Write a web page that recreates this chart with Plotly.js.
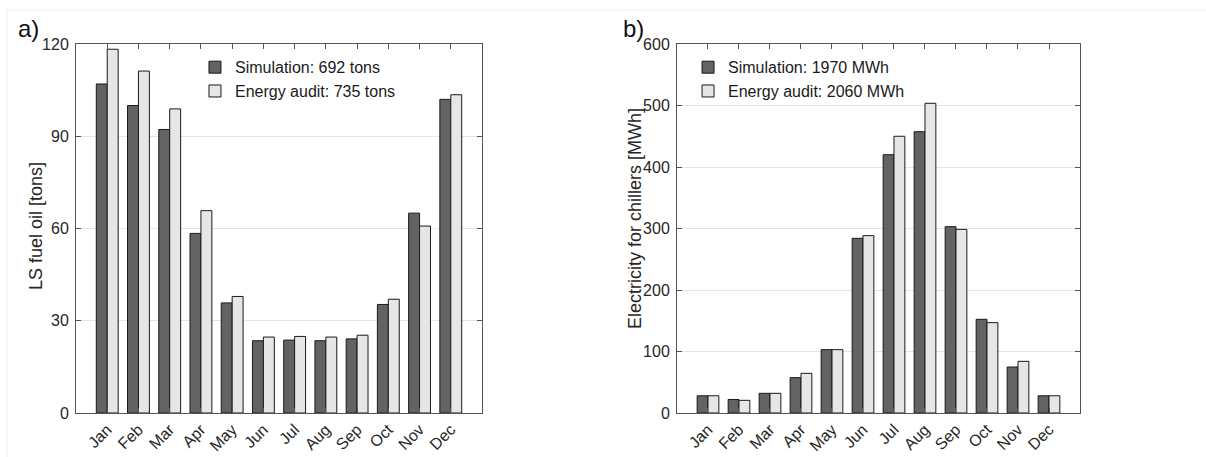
<!DOCTYPE html>
<html>
<head>
<meta charset="utf-8">
<script src="https://cdn.plot.ly/plotly-3.0.1.min.js"></script>
<style>html,body{margin:0;padding:0;background:#fff;}#chart{width:1206px;height:457px;}</style>
</head>
<body>
<div id="chart"></div>
<script>
const months = ["Jan","Feb","Mar","Apr","May","Jun","Jul","Aug","Sep","Oct","Nov","Dec"];
const fuelSim   = [107, 100, 92.2, 58.4, 35.8, 23.5, 23.7, 23.5, 24.1, 35.3, 65, 102];
const fuelAudit = [118.3, 111.2, 98.9, 65.8, 37.9, 24.7, 24.9, 24.7, 25.3, 37, 60.8, 103.5];
const elecSim   = [28, 22, 32, 57.5, 103, 284, 420, 457.4, 303, 152.3, 74.8, 28];
const elecAudit = [28, 20.6, 32, 64.5, 103, 288.4, 450, 503.6, 298.6, 146.9, 84, 28];
const fuelNames = ["Simulation: 692 tons", "Energy audit: 735 tons"];
const elecNames = ["Simulation: 1970 MWh", "Energy audit: 2060 MWh"];
const fuelTicks = [0, 30, 60, 90, 120];
const elecTicks = [0, 100, 200, 300, 400, 500, 600];
const fuelTitle = "LS fuel oil [tons]";
const elecTitle = "Electricity for chillers [MWh]";

const darkC = "#636363", lightC = "#e6e6e6", lineC = "#1a1a1a";
const font = "Liberation Sans, Arial, sans-serif";

function bar(y, name, color, xa, ya, leg) {
  return {type: "bar", x: months, y: y, name: name, xaxis: xa, yaxis: ya, legend: leg,
    marker: {color: color, line: {color: lineC, width: 1}}, hoverinfo: "y"};
}
const traces = [
  bar(fuelSim, fuelNames[0], darkC, "x", "y", "legend"),
  bar(fuelAudit, fuelNames[1], lightC, "x", "y", "legend"),
  bar(elecSim, elecNames[0], darkC, "x2", "y2", "legend2"),
  bar(elecAudit, elecNames[1], lightC, "x2", "y2", "legend2")
];

const axX = (dom) => ({domain: dom, range: [-1, 12], type: "category", showline: true, linecolor: "#555",
  linewidth: 1, mirror: "ticks", ticks: "inside", ticklen: 5, tickcolor: "#555", tickangle: -45,
  tickfont: {size: 16, color: "#262626", family: font}, showgrid: false, automargin: false, fixedrange: true});
const axY = (rng, tv) => ({range: rng, tickvals: tv, showline: true, linecolor: "#555", linewidth: 1,
  mirror: "ticks", ticks: "inside", ticklen: 5, tickcolor: "#555", showgrid: true, gridcolor: "#e5e5e5",
  zeroline: false, tickfont: {size: 16, color: "#262626", family: font}, automargin: false, ticklabelstandoff: 3,
  fixedrange: true});

const layout = {
  width: 1206, height: 457,
  margin: {l: 76, r: 126, t: 44, b: 44},
  paper_bgcolor: "#fff", plot_bgcolor: "#fff",
  font: {family: font, color: "#262626"},
  barmode: "group", bargap: 0.3, bargroupgap: 0,
  xaxis: axX([0, 0.4044]),
  yaxis: axY([0, 120], fuelTicks),
  xaxis2: axX([0.5986, 1]),
  yaxis2: Object.assign(axY([0, 600], elecTicks), {anchor: "x2"}),
  legend: {x: 0.1185, y: 0.983, xanchor: "left", yanchor: "top", bgcolor: "rgba(0,0,0,0)",
    font: {size: 16, family: font, color: "#1a1a1a"}, tracegroupgap: 0},
  legend2: {x: 0.6096, y: 0.983, xanchor: "left", yanchor: "top", bgcolor: "rgba(0,0,0,0)",
    font: {size: 16, family: font, color: "#1a1a1a"}, tracegroupgap: 0},
  annotations: [
    {text: "a)", xref: "paper", yref: "paper", x: -0.0598, y: 1.0, xanchor: "left", yanchor: "bottom",
     showarrow: false, font: {size: 24, color: "#111", family: font}},
    {text: "b)", xref: "paper", yref: "paper", x: 0.5428, y: 1.0, xanchor: "left", yanchor: "bottom",
     showarrow: false, font: {size: 24, color: "#111", family: font}},
    {text: fuelTitle, xref: "paper", yref: "paper", x: -0.0398, y: 0.507, xanchor: "center", yanchor: "middle",
     textangle: -90, showarrow: false, font: {size: 18, color: "#262626", family: font}},
    {text: elecTitle, xref: "paper", yref: "paper", x: 0.5568, y: 0.526, xanchor: "center", yanchor: "middle",
     textangle: -90, showarrow: false, font: {size: 18, color: "#262626", family: font}}
  ],
  shapes: [
    {type: "line", xref: "paper", yref: "paper", x0: -0.0687, x1: 1.13, y0: 1.0921, y1: 1.0921,
     line: {color: "#eeeeee", width: 1}},
    {type: "line", xref: "paper", yref: "paper", x0: -0.0687, x1: -0.0687, y0: 1.0921, y1: -0.12,
     line: {color: "#eeeeee", width: 1}}
  ]
};
Plotly.newPlot("chart", traces, layout, {displayModeBar: false, staticPlot: true});
</script>
</body>
</html>
